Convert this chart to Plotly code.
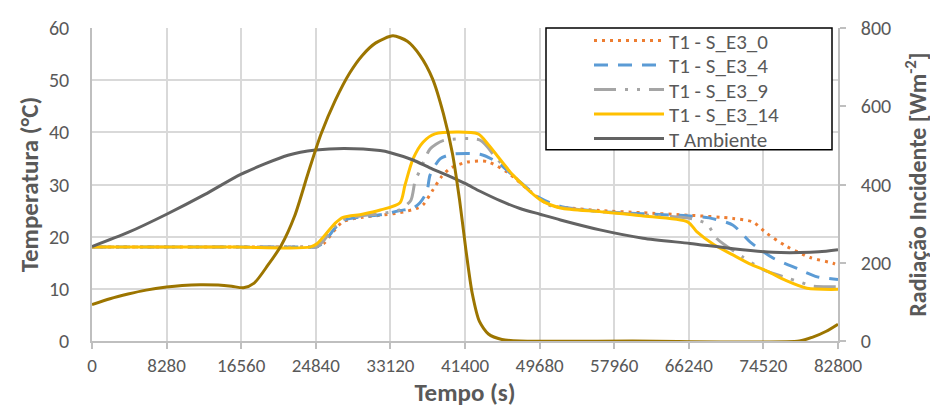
import plotly.graph_objects as go

# ---- data ----
t_amb = [0, 4000, 8280, 12540, 16560, 21750, 24840, 28000, 31970, 33120, 35630, 37500, 39400, 41400,
         43070, 45290, 47500, 49730, 52000, 56380, 61160, 66370, 71150, 75590, 78590, 80700, 82800]
T_amb = [18.1, 20.8, 24.3, 28.1, 32.0, 35.6, 36.6, 36.9, 36.5, 36.1, 34.7, 33.2, 31.8, 30.2,
         28.7, 26.9, 25.4, 24.3, 23.2, 21.3, 19.7, 18.7, 17.7, 17.0, 16.95, 17.1, 17.5]

t_e0 = [0, 8000, 16000, 24000, 24840, 25800, 26800, 27860, 30000, 32000, 34190, 36000, 36740, 37850, 38800,
        39740, 41620, 43840, 46060, 48620, 50830, 53000, 56380, 61000, 66370, 71150, 73370, 74920, 77140,
        79700, 82250, 82800]
T_e0 = [18, 18, 18, 18, 18, 18.8, 21.0, 22.9, 23.7, 24.1, 24.6, 25.4, 26.1, 29.0, 31.5,
        33.1, 34.3, 34.4, 32.4, 28.7, 26.0, 25.5, 25.0, 24.6, 24.1, 23.5, 22.8, 20.6, 18.1,
        16.0, 14.9, 14.5]

t_e4 = [0, 8000, 16000, 24000, 24840, 25800, 26800, 27860, 30000, 32000, 34190, 35630, 36400, 37180, 37520,
        38630, 40000, 43070, 44960, 47510, 49730, 52000, 56380, 61000, 66040, 68500, 71150, 73030, 75590,
        78250, 80500, 82800]
T_e4 = [18, 18, 18, 18, 18, 19.0, 21.3, 23.1, 23.8, 24.2, 25.0, 25.5, 26.5, 28.7, 31.8,
        34.9, 35.8, 35.8, 34.3, 30.5, 27.4, 25.8, 24.8, 24.4, 24.0, 23.6, 22.2, 19.0, 15.9,
        13.9, 12.3, 11.8]

t_e9 = [0, 8000, 16000, 24000, 24840, 25700, 26700, 27860, 30000, 32000, 34190, 35400, 35850, 36400, 37520,
        38960, 43070, 44960, 48620, 50830, 53000, 56380, 61000, 66710, 68260, 69370, 72150, 74480, 77140,
        78590, 80030, 82800]
T_e9 = [18, 18, 18, 18, 18, 19.2, 21.5, 23.3, 24.0, 24.4, 25.2, 27.0, 30.6, 32.7, 36.8,
        38.4, 38.5, 34.9, 28.7, 26.0, 25.4, 24.8, 24.2, 23.4, 22.4, 19.6, 16.2, 13.7, 12.1,
        11.3, 10.5, 10.4]

t_e14 = [0, 8000, 16000, 24200, 25000, 26000, 27000, 27860, 30000, 32000, 34190, 34740, 35630, 36740, 38070,
         42840, 44000, 46730, 49730, 52000, 56380, 61000, 66150, 67150, 69000, 71140, 73000, 74920, 77000,
         79360, 82800]
T_e14 = [18, 18, 18, 18, 18.7, 20.6, 22.6, 23.7, 24.3, 25.1, 26.5, 29.9, 34.9, 38.1, 39.7,
         39.7, 37.6, 31.8, 27.1, 25.5, 24.8, 24.0, 22.8, 20.9, 18.5, 16.5, 14.8, 13.4, 11.6,
         10.1, 9.9]

t_rad = [0, 2000, 4000, 6000, 8280, 10000, 12000, 14000, 15500, 16800, 18000, 19500, 21000, 22500, 24000,
         25420, 27000, 28600, 30000, 31500, 33400, 35000, 36400, 37800, 39000, 40000, 40800, 41500, 42200,
         43000, 44000, 45500, 47500, 60000, 78500, 80000, 81500, 82800]
R_rad = [93, 108, 120, 130, 138, 142, 144, 143, 140, 136, 148, 193, 244, 320, 430,
         529, 615, 685, 730, 762, 780, 766, 730, 670, 581, 480, 360, 233, 122,
         50, 18, 4, 0, 0, 0, 10, 25, 43]

x_ticks = [0, 8280, 16560, 24840, 33120, 41400, 49680, 57960, 66240, 74520, 82800]

FONT = "Carlito, Calibri, Lato, sans-serif"
TXT = "#595959"
GRID = "#D9D9D9"
AXL = "#BFBFBF"

# page offset (html body margin) compensation: plot area should sit at page x 92..838, y 22..341
ML, MT = 84, 14
PW, PH = 746, 319

fig = go.Figure()
series = [
    ("T1 - S_E3_0", t_e0, T_e0, "#ED7D31", "3px,5px"),
    ("T1 - S_E3_4", t_e4, T_e4, "#5B9BD5", "14px,10px"),
    ("T1 - S_E3_9", t_e9, T_e9, "#A5A5A5", "22px,9px,3px,9px,3px,9px"),
    ("T1 - S_E3_14", t_e14, T_e14, "#FFC000", "solid"),
    ("T Ambiente", t_amb, T_amb, "#636363", "solid"),
]
legend_names = ["legend", "legend2", "legend3", "legend4", "legend5"]
row_centers = [35, 60, 85, 110, 135]  # page y of legend rows
legend_layouts = {}
for (name, t, v, c, d), lg, yc in zip(series, legend_names, row_centers):
    fig.add_trace(go.Scatter(x=t, y=v, name=name, mode="lines", legend=lg,
                             line=dict(color=c, width=3, dash=d, shape="spline", smoothing=0.7)))
    legend_layouts[lg] = dict(x=(589 - 92) / PW, y=(341 - yc) / PH, xanchor="left", yanchor="middle",
                              bgcolor="rgba(0,0,0,0)", borderwidth=0, itemwidth=70,
                              font=dict(family=FONT, size=21, color=TXT))

fig.add_trace(go.Scatter(x=t_rad, y=R_rad, name="Radiação", mode="lines", yaxis="y2", showlegend=False,
                         line=dict(color="#9C7500", width=3, shape="spline", smoothing=0.7)))

fig.update_layout(
    width=938, height=410,
    margin=dict(l=ML, r=938 - ML - PW, t=MT, b=410 - MT - PH),
    paper_bgcolor="white", plot_bgcolor="white",
    font=dict(family=FONT, size=20, color=TXT),
    showlegend=True,
    xaxis=dict(range=[0, 82800], tickmode="array", tickvals=x_ticks,
               ticktext=[str(v) for v in x_ticks],
               showgrid=True, gridcolor=GRID, gridwidth=1.5,
               showline=True, linecolor=AXL, linewidth=1.5,
               ticks="outside", ticklen=6, tickcolor=AXL, tickwidth=1.5,
               zeroline=False, automargin=False,
               title=dict(text="<b>Tempo (s)</b>", font=dict(family=FONT, size=25, color=TXT), standoff=8),
               tickfont=dict(family=FONT, size=19, color=TXT)),
    yaxis=dict(range=[0, 60], dtick=10, showgrid=True, gridcolor=GRID, gridwidth=1.5,
               showline=True, linecolor=AXL, linewidth=1.5, automargin=False,
               ticks="", zeroline=False, ticklabelstandoff=17,
               title=dict(text="<b>Temperatura (°C)</b>", font=dict(family=FONT, size=25, color=TXT), standoff=3),
               tickfont=dict(family=FONT, size=20, color=TXT)),
    yaxis2=dict(range=[0, 800], dtick=200, overlaying="y", side="right", showgrid=False,
                showline=True, linecolor=AXL, linewidth=1.5, automargin=False,
                ticks="outside", ticklen=6, tickcolor=AXL, tickwidth=1.5, zeroline=False,
                ticklabelstandoff=11,
                title=dict(text="<b>Radiação Incidente [Wm<sup>-2</sup>]</b>",
                           font=dict(family=FONT, size=24, color=TXT), standoff=19),
                tickfont=dict(family=FONT, size=20, color=TXT)),
    shapes=[dict(type="rect", xref="paper", yref="paper",
                 x0=(546 - 92) / PW, x1=(832 - 92) / PW,
                 y0=(341 - 146) / PH, y1=1.0,
                 line=dict(color="black", width=1.5), fillcolor="white", layer="above")],
    **legend_layouts,
)

fig.write_html("out.html")
